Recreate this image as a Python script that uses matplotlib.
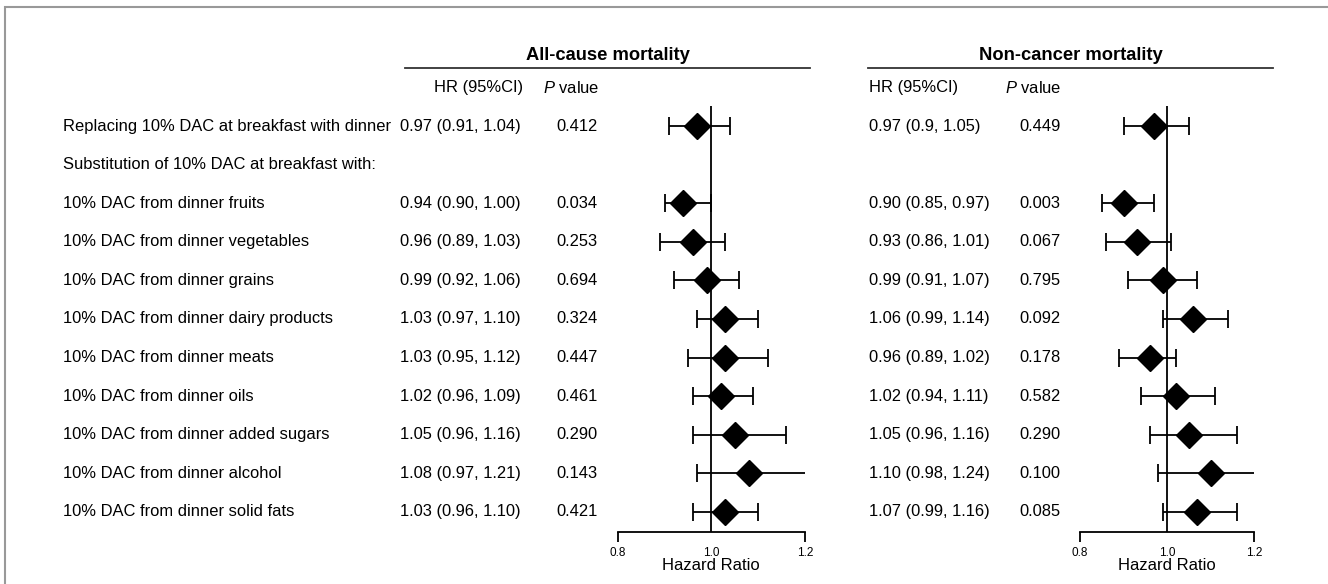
import matplotlib.pyplot as plt
import numpy as np
from matplotlib.patches import Rectangle
from matplotlib.transforms import blended_transform_factory

plt.rcParams['font.family'] = ['Liberation Sans', 'DejaVu Sans']
plt.rcParams['mathtext.fontset'] = 'custom'
plt.rcParams['mathtext.rm'] = 'Liberation Sans'
plt.rcParams['mathtext.it'] = 'Liberation Sans:italic'

labels = ["Replacing 10% DAC at breakfast with dinner",
          "Substitution of 10% DAC at breakfast with:",
          "10% DAC from dinner fruits",
          "10% DAC from dinner vegetables",
          "10% DAC from dinner grains",
          "10% DAC from dinner dairy products",
          "10% DAC from dinner meats",
          "10% DAC from dinner oils",
          "10% DAC from dinner added sugars",
          "10% DAC from dinner alcohol",
          "10% DAC from dinner solid fats"]

# all-cause mortality
all_hr = [0.97, np.nan, 0.94, 0.96, 0.99, 1.03, 1.03, 1.02, 1.05, 1.08, 1.03]
all_lo = [0.91, np.nan, 0.90, 0.89, 0.92, 0.97, 0.95, 0.96, 0.96, 0.97, 0.96]
all_hi = [1.04, np.nan, 1.00, 1.03, 1.06, 1.10, 1.12, 1.09, 1.16, 1.21, 1.10]
all_ci = ["0.97 (0.91, 1.04)", "", "0.94 (0.90, 1.00)", "0.96 (0.89, 1.03)",
          "0.99 (0.92, 1.06)", "1.03 (0.97, 1.10)", "1.03 (0.95, 1.12)",
          "1.02 (0.96, 1.09)", "1.05 (0.96, 1.16)", "1.08 (0.97, 1.21)",
          "1.03 (0.96, 1.10)"]
all_p = ["0.412", "", "0.034", "0.253", "0.694", "0.324", "0.447",
         "0.461", "0.290", "0.143", "0.421"]

# non-cancer mortality
nc_hr = [0.97, np.nan, 0.90, 0.93, 0.99, 1.06, 0.96, 1.02, 1.05, 1.10, 1.07]
nc_lo = [0.90, np.nan, 0.85, 0.86, 0.91, 0.99, 0.89, 0.94, 0.96, 0.98, 0.99]
nc_hi = [1.05, np.nan, 0.97, 1.01, 1.07, 1.14, 1.02, 1.11, 1.16, 1.24, 1.16]
nc_ci = ["0.97 (0.9, 1.05)", "", "0.90 (0.85, 0.97)", "0.93 (0.86, 1.01)",
         "0.99 (0.91, 1.07)", "1.06 (0.99, 1.14)", "0.96 (0.89, 1.02)",
         "1.02 (0.94, 1.11)", "1.05 (0.96, 1.16)", "1.10 (0.98, 1.24)",
         "1.07 (0.99, 1.16)"]
nc_p = ["0.449", "", "0.003", "0.067", "0.795", "0.092", "0.178",
        "0.582", "0.290", "0.100", "0.085"]

W, H = 1328, 584
fig = plt.figure(figsize=(W / 100, H / 100), dpi=100)


def px(x0, y0, x1, y1):
    # pixel box (from top-left) -> figure fraction rect
    return [x0 / W, 1 - y1 / H, (x1 - x0) / W, (y1 - y0) / H]


def forest(box, hr, lo, hi):
    ax = fig.add_axes(px(*box))
    y = np.arange(len(hr))
    hr, lo, hi = np.array(hr), np.array(lo), np.array(hi)
    ax.axvline(1.0, color='black', lw=1.3, zorder=1)
    ax.errorbar(hr, y, xerr=[hr - lo, hi - hr], fmt='D', color='black',
                ms=13, elinewidth=1.3, capsize=6.5, capthick=1.3, zorder=3)
    ax.set_xlim(0.8, 1.2)
    ax.set_ylim(len(hr) - 0.48, -0.52)
    for s in ['top', 'right', 'left']:
        ax.spines[s].set_visible(False)
    ax.spines['bottom'].set_linewidth(1.3)
    ax.set_yticks([])
    ax.set_xticks([0.8, 1.0, 1.2])
    ax.set_xticklabels(['0.8', '1.0', '1.2'], fontsize=8.5)
    ax.tick_params(axis='x', length=7, width=1.3, pad=4)
    ax.xaxis.get_major_ticks()[1].tick1line.set_visible(False)
    ax.set_xlabel('Hazard Ratio', fontsize=12, labelpad=-1)
    return ax


ax1 = forest((617.7, 106, 805, 532), all_hr, all_lo, all_hi)
ax2 = forest((1080, 106, 1254, 532), nc_hr, nc_lo, nc_hi)

tr = blended_transform_factory(fig.transFigure, ax1.transData)
fs = 11.9
for i in range(len(labels)):
    fig.text(63 / W, i, labels[i], transform=tr, fontsize=fs, va='center')
    fig.text(400 / W, i, all_ci[i], transform=tr, fontsize=fs, va='center')
    fig.text(577 / W, i, all_p[i], transform=tr, fontsize=fs, va='center', ha='center')
    fig.text(869 / W, i, nc_ci[i], transform=tr, fontsize=fs, va='center')
    fig.text(1040 / W, i, nc_p[i], transform=tr, fontsize=fs, va='center', ha='center')

# column headers
hy = 1 - 88 / H
fig.text(523 / W, hy, 'HR (95%CI)', fontsize=fs, ha='right', va='center')
fig.text(571 / W, hy, r'$\it{P}$ value', fontsize=fs, ha='center', va='center')
fig.text(869 / W, hy, 'HR (95%CI)', fontsize=fs, ha='left', va='center')
fig.text(1033 / W, hy, r'$\it{P}$ value', fontsize=fs, ha='center', va='center')

# group titles with underline
for x0, x1, title in [(405, 810, 'All-cause mortality'),
                      (868, 1273, 'Non-cancer mortality')]:
    fig.text((x0 + x1) / 2 / W, 1 - 55 / H, title, fontsize=13.2, fontweight='bold',
             ha='center', va='center')
    fig.add_artist(plt.Line2D([x0 / W, x1 / W], [1 - 68 / H] * 2,
                              color='#333333', lw=1.3))

# outer frame
fig.add_artist(Rectangle((5 / W, -0.1), 1.2, 1 - 7 / H + 0.1, transform=fig.transFigure,
                         fill=False, edgecolor='#999999', lw=1.5))

fig.savefig('out.png', dpi=100)
